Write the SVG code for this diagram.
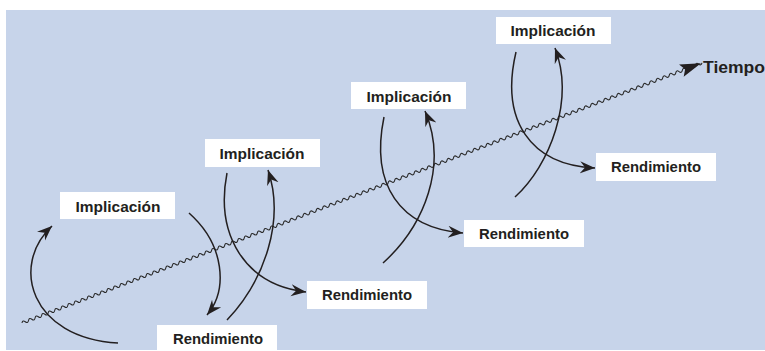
<svg xmlns="http://www.w3.org/2000/svg" width="765" height="351" viewBox="0 0 765 351">
<defs>
<style>
.bg{fill:#c7d4ea}
.box{fill:#ffffff}
.lbl{font-family:"Liberation Sans",Arial,sans-serif;font-weight:bold;font-size:15px;fill:#231f20;text-anchor:middle}
.arc{fill:none;stroke:#231f20;stroke-width:1.5;marker-end:url(#ah)}
.wave{fill:none;stroke:#2a2a2a;stroke-width:1.1}
</style>
<marker id="ah" viewBox="-15 -7 16 14" refX="0" refY="0" markerWidth="16" markerHeight="14" markerUnits="userSpaceOnUse" orient="auto">
<path d="M0,0 L-15,-6 L-10,0 L-15,6 Z" fill="#231f20"/>
</marker>
</defs>
<rect x="0" y="0" width="765" height="351" fill="#ffffff"/>
<rect class="bg" x="6" y="10" width="759" height="340"/>

<g id="timeline">
<g transform="translate(22,323) rotate(-20.94)">
<path class="wave" d="M0,0 q1.75,-2.8 3.5,0t3.5,0t3.5,0t3.5,0t3.5,0t3.5,0t3.5,0t3.5,0t3.5,0t3.5,0t3.5,0t3.5,0t3.5,0t3.5,0t3.5,0t3.5,0t3.5,0t3.5,0t3.5,0t3.5,0t3.5,0t3.5,0t3.5,0t3.5,0t3.5,0t3.5,0t3.5,0t3.5,0t3.5,0t3.5,0t3.5,0t3.5,0t3.5,0t3.5,0t3.5,0t3.5,0t3.5,0t3.5,0t3.5,0t3.5,0t3.5,0t3.5,0t3.5,0t3.5,0t3.5,0t3.5,0t3.5,0t3.5,0t3.5,0t3.5,0t3.5,0t3.5,0t3.5,0t3.5,0t3.5,0t3.5,0t3.5,0t3.5,0t3.5,0t3.5,0t3.5,0t3.5,0t3.5,0t3.5,0t3.5,0t3.5,0t3.5,0t3.5,0t3.5,0t3.5,0t3.5,0t3.5,0t3.5,0t3.5,0t3.5,0t3.5,0t3.5,0t3.5,0t3.5,0t3.5,0t3.5,0t3.5,0t3.5,0t3.5,0t3.5,0t3.5,0t3.5,0t3.5,0t3.5,0t3.5,0t3.5,0t3.5,0t3.5,0t3.5,0t3.5,0t3.5,0t3.5,0t3.5,0t3.5,0t3.5,0t3.5,0t3.5,0t3.5,0t3.5,0t3.5,0t3.5,0t3.5,0t3.5,0t3.5,0t3.5,0t3.5,0t3.5,0t3.5,0t3.5,0t3.5,0t3.5,0t3.5,0t3.5,0t3.5,0t3.5,0t3.5,0t3.5,0t3.5,0t3.5,0t3.5,0t3.5,0t3.5,0t3.5,0t3.5,0t3.5,0t3.5,0t3.5,0t3.5,0t3.5,0t3.5,0t3.5,0t3.5,0t3.5,0t3.5,0t3.5,0t3.5,0t3.5,0t3.5,0t3.5,0t3.5,0t3.5,0t3.5,0t3.5,0t3.5,0t3.5,0t3.5,0t3.5,0t3.5,0t3.5,0t3.5,0t3.5,0t3.5,0t3.5,0t3.5,0t3.5,0t3.5,0t3.5,0t3.5,0t3.5,0t3.5,0t3.5,0t3.5,0t3.5,0t3.5,0t3.5,0t3.5,0t3.5,0t3.5,0t3.5,0t3.5,0t3.5,0t3.5,0t3.5,0t3.5,0t3.5,0t3.5,0t3.5,0t3.5,0t3.5,0t3.5,0t3.5,0t3.5,0t3.5,0t3.5,0t3.5,0t3.5,0t3.5,0t3.5,0t3.5,0t3.5,0t3.5,0t3.5,0t3.5,0t3.5,0t3.5,0t3.5,0t3.5,0t3.5,0t3.5,0t3.5,0t3.5,0t3.5,0t3.5,0"/>
<path d="M727,0 L706,-6.5 L710,0 L706,6.5 Z" fill="#231f20"/>
</g>
<text class="lbl" x="703" y="73" style="font-size:17px;text-anchor:start" textLength="62" lengthAdjust="spacingAndGlyphs">Tiempo</text>
</g>

<g id="connectors">
<path class="arc" d="M118,343 C30,338 10,265 52,226"/>
<path class="arc" d="M189,213 C225,245 228,290 207,315"/>
<path class="arc" d="M227,320 C265,280 285,220 268,170"/>
<path class="arc" d="M227,173 C215,235 245,285 306,292"/>
<path class="arc" d="M383,263 C425,225 448,165 425,111"/>
<path class="arc" d="M384,117 C370,185 400,228 463,233"/>
<path class="arc" d="M515,197 C550,165 575,100 555,48"/>
<path class="arc" d="M516,52 C500,120 530,165 595,168"/>
</g>

<g id="impl1"><rect class="box" x="60" y="192" width="115" height="27"/><text class="lbl" x="118" y="212" textLength="85" lengthAdjust="spacingAndGlyphs">Implicación</text></g>
<g id="impl2"><rect class="box" x="205" y="139" width="115" height="28"/><text class="lbl" x="262" y="159" textLength="85" lengthAdjust="spacingAndGlyphs">Implicación</text></g>
<g id="impl3"><rect class="box" x="351" y="82" width="115" height="27"/><text class="lbl" x="409" y="102" textLength="85" lengthAdjust="spacingAndGlyphs">Implicación</text></g>
<g id="impl4"><rect class="box" x="496" y="17" width="115" height="27"/><text class="lbl" x="553" y="36" textLength="85" lengthAdjust="spacingAndGlyphs">Implicación</text></g>

<g id="rend1"><rect class="box" x="157" y="325" width="120" height="26"/><text class="lbl" x="218" y="344" textLength="90" lengthAdjust="spacingAndGlyphs">Rendimiento</text></g>
<g id="rend2"><rect class="box" x="307" y="281" width="120" height="28"/><text class="lbl" x="367" y="300" textLength="90" lengthAdjust="spacingAndGlyphs">Rendimiento</text></g>
<g id="rend3"><rect class="box" x="464" y="220" width="120" height="27"/><text class="lbl" x="524" y="239" textLength="90" lengthAdjust="spacingAndGlyphs">Rendimiento</text></g>
<g id="rend4"><rect class="box" x="596" y="153" width="120" height="28"/><text class="lbl" x="656" y="172" textLength="90" lengthAdjust="spacingAndGlyphs">Rendimiento</text></g>
</svg>
